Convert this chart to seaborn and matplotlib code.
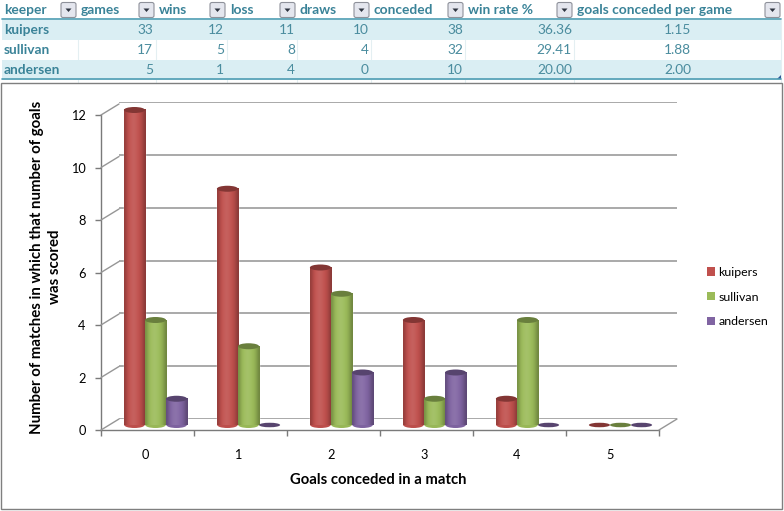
import numpy as np
import pandas as pd
import matplotlib
matplotlib.use("Agg")
import matplotlib.pyplot as plt
from matplotlib.patches import Ellipse, Patch, Rectangle, FancyBboxPatch, Polygon
import seaborn as sns

# ---------- data ----------
goals = ["0", "1", "2", "3", "4", "5"]
kuipers = [12, 9, 6, 4, 1, 0]
sullivan = [4, 3, 5, 1, 4, 0]
andersen = [1, 0, 2, 2, 0, 0]
keepers = ["kuipers", "sullivan", "andersen"]
colors = ["#C0504D", "#9BBB59", "#8064A2"]
yticks = [0, 2, 4, 6, 8, 10, 12]

headers = ["keeper", "games", "wins", "loss", "draws", "conceded", "win rate %",
           "goals conceded per game"]
games = [33, 17, 5]
wins = [12, 5, 1]
loss = [11, 8, 4]
draws = [10, 4, 0]
conceded = [38, 32, 10]
win_rate = ["36.36", "29.41", "20.00"]
per_game = ["1.15", "1.88", "2.00"]

xlabel = "Goals conceded in a match"
ylabel = "Number of matches in which that number of goals\nwas scored"

df = pd.DataFrame({
    "goals": goals * 3,
    "keeper": np.repeat(keepers, len(goals)),
    "matches": kuipers + sullivan + andersen,
})

# ---------- setup ----------
sns.set_theme(style="white")
plt.rcParams["font.family"] = ["Lato", "DejaVu Sans"]
W, H = 784, 511
fig = plt.figure(figsize=(W / 100, H / 100), dpi=100, facecolor="white")

TEAL = "#3A8398"
BAND = "#DAEEF3"
LINE = "#4E9DB3"
GRID = "#969696"
AXC = "#7A7A7A"


def box(left, right, bottom_py, top_py):
    return [left / W, (H - bottom_py) / H, (right - left) / W, (bottom_py - top_py) / H]


# overlay in pixel coordinates for the table and chart frame
page = fig.add_axes([0, 0, 1, 1], zorder=0)
page.set_xlim(0, W)
page.set_ylim(H, 0)
page.axis("off")

page.add_patch(Rectangle((1, 83), 781, 426, fc="white", ec="#7F7F7F", lw=1.0))
for y0 in (20, 60):
    page.add_patch(Rectangle((2, y0), 779, 20, fc=BAND, ec="none"))
page.plot([2, 781], [19.5, 19.5], color=LINE, lw=1.2)
page.plot([2, 781], [79.5, 79.5], color=LINE, lw=1.2)
col_edges = [78, 156, 227, 297, 371, 465, 574, 781]
for x in col_edges:
    page.plot([x, x], [20, 83], color="#E4EFF2", lw=0.8, zorder=0.5)

header_x = [4, 81, 159, 230, 300, 374, 468, 577]
for x, h in zip(header_x, headers):
    page.text(x, 10.5, h, ha="left", va="center", color=TEAL, fontsize=9.9, fontweight="bold")
for xr in [77, 155, 226, 296, 370, 464, 573, 781]:
    xb = xr - 16
    page.add_patch(FancyBboxPatch((xb, 2.5), 15, 15, boxstyle="round,pad=0,rounding_size=2",
                                  fc="#E4E6EE", ec="#8E919A", lw=0.8))
    page.add_patch(Polygon([(xb + 4.5, 8.5), (xb + 10.5, 8.5), (xb + 7.5, 12)], fc="#2E3440", ec="none"))

row_y = [30, 50, 70]
right_edges = [153, 224, 295, 369, 463, 572, 691]
columns = [games, wins, loss, draws, conceded, win_rate, per_game]
for i, y in enumerate(row_y):
    page.text(4, y, keepers[i], ha="left", va="center", color=TEAL, fontsize=9.9, fontweight="bold")
    for xr, col in zip(right_edges, columns):
        page.text(xr, y, str(col[i]), ha="right", va="center", color="#4A8C9E", fontsize=9.9)
page.add_patch(Polygon([(781, 75.5), (781, 79), (777, 79)], fc="#2F5597", ec="none"))

# back wall: gridlines
back = fig.add_axes(box(119, 677, 419, 102), zorder=1)
back.set_xlim(-0.5, 5.5)
back.set_ylim(0, 12)
back.patch.set_alpha(0)
for s in back.spines.values():
    s.set_visible(False)
back.set_xticks([])
back.set_yticks(yticks)
back.tick_params(left=False, labelleft=False)
back.grid(axis="y", color=GRID, lw=1.15)
back.set_axisbelow(True)

# front plane: axes, ticks, labels
front = fig.add_axes(box(101, 659, 430, 115), zorder=2)
front.set_xlim(-0.5, 5.5)
front.set_ylim(0, 12)
front.patch.set_alpha(0)
for s in ("top", "right"):
    front.spines[s].set_visible(False)
for s in ("left", "bottom"):
    front.spines[s].set_color(AXC)
    front.spines[s].set_linewidth(1.0)
front.set_xticks(np.arange(0.5 - 1, 6), minor=True)
front.set_xticks(np.arange(len(goals)))
front.set_xticklabels(goals)
front.set_yticks(yticks)
front.tick_params(axis="x", which="minor", length=4, color=AXC, width=1, bottom=True)
front.tick_params(axis="x", which="major", length=0, pad=13.5, labelsize=9.2, colors="black")
front.tick_params(axis="y", length=4, color=AXC, width=1, left=True, pad=7, labelsize=9.2, labelcolor="black")
for lab in front.get_xticklabels():
    lab.set_ha("center")
    lab.set_transform(lab.get_transform() + matplotlib.transforms.ScaledTranslation(-2.5 / 100, 0, fig.dpi_scale_trans))
fig.text(378 / W, 1 - 480 / H, xlabel, ha="center", va="center", fontsize=10.7,
         fontweight="bold", color="black")
fig.text(46 / W, 1 - 267 / H, ylabel, rotation=90, ha="center", va="center",
         fontsize=10.8, fontweight="bold", color="black", linespacing=1.4)

# floor and side-wall diagonals connecting the front plane with the back wall
for v in yticks:
    front.annotate("", xy=(-0.5, v), xytext=(18, 11), xycoords="data", textcoords="offset pixels",
                   arrowprops=dict(arrowstyle="-", color=GRID, lw=1.0, shrinkA=0, shrinkB=0))
front.annotate("", xy=(5.5, 0), xytext=(18, 11), xycoords="data", textcoords="offset pixels",
               arrowprops=dict(arrowstyle="-", color=GRID, lw=1.0, shrinkA=0, shrinkB=0))

# bars: standing in the middle of the floor depth
ax = fig.add_axes(box(109, 667, 425, 110), zorder=3)
sns.barplot(data=df, x="goals", y="matches", hue="keeper", order=goals, hue_order=keepers,
            palette=colors, width=0.68, gap=0, legend=False, ax=ax, saturation=1)
ax.set_xlim(-0.5, 5.5)
ax.set_ylim(0, 12)
ax.axis("off")
ax.patch.set_alpha(0)


def shade(c, f):
    rgb = np.array(matplotlib.colors.to_rgb(c))
    return np.clip(rgb * f if f <= 1 else rgb + (1 - rgb) * (f - 1), 0, 1)


ph = 6.0 / 26.25  # cap height in data units
prof_f = [0.78, 0.94, 1.03, 1.08, 1.10, 1.07, 1.02, 0.96, 0.86, 0.72]
for cont, col in zip(ax.containers, colors):
    strip = np.array([[shade(col, f) for f in prof_f]])
    for bar in cont:
        x0, w, h = bar.get_x(), bar.get_width(), bar.get_height()
        xc = x0 + w / 2
        if h > 0:
            bar.set_facecolor(col)
            ax.imshow(strip, extent=(x0, x0 + w, 0, h), aspect="auto", zorder=2.5,
                      interpolation="bicubic", clip_on=False)
            ax.add_patch(Ellipse((xc, 0), w * 0.97, ph, fc=shade(col, 0.98), ec="none", zorder=2.4, clip_on=False))
            ax.add_patch(Ellipse((xc, h), w, ph, fc=shade(col, 0.68), ec="none", zorder=3, clip_on=False))
        else:
            bar.set_visible(False)
            ax.add_patch(Ellipse((xc, h), w, ph * 0.75, fc=shade(col, 0.68), ec="none", zorder=3, clip_on=False))
ax.set_xlim(-0.5, 5.5)
ax.set_ylim(0, 12)

# legend
handles = [Patch(facecolor=c, edgecolor="none") for c in colors]
fig.legend(handles, keepers, loc="center left", bbox_to_anchor=(701 / W, 1 - 297 / H),
           frameon=False, fontsize=8.9, labelcolor="black", handlelength=0.65, handleheight=0.65,
           handletextpad=0.25, labelspacing=1.1, borderpad=0, borderaxespad=0.5)

fig.savefig("out.png", dpi=100, facecolor="white")
